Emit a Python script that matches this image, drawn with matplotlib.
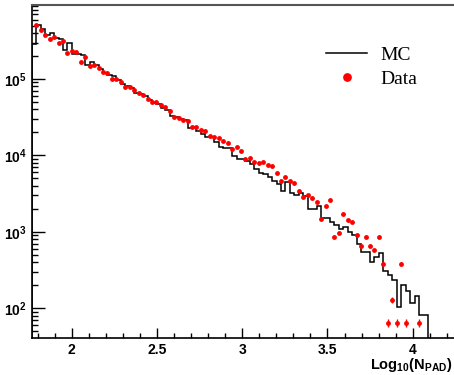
import numpy as np
import matplotlib
matplotlib.use("Agg")
import matplotlib.pyplot as plt
from matplotlib.lines import Line2D
from matplotlib.ticker import MultipleLocator, LogLocator, NullFormatter, FixedLocator, FixedFormatter

# binning in log10(N_PAD)
bin_lo = 1.766
bin_w = 0.0261

# MC histogram, one value per bin (89 bins)
mc_counts = [
    2.87e5, 5.09e5, 4.51e5, 3.77e5, 4.04e5, 3.41e5, 3.31e5, 2.40e5, 2.93e5, 2.12e5,
    2.11e5, 2.06e5, 1.53e5, 1.68e5, 1.53e5, 1.34e5, 1.21e5, 1.13e5, 1.09e5, 9.70e4,
    8.60e4, 8.10e4, 7.56e4, 6.62e4, 6.36e4, 5.99e4, 5.31e4, 4.81e4, 4.67e4, 4.21e4,
    3.93e4, 3.28e4, 3.15e4, 3.02e4, 2.91e4, 2.26e4, 2.38e4, 2.09e4, 1.88e4, 1.74e4,
    1.73e4, 1.51e4, 1.30e4, 1.26e4, 1.26e4, 9.82e3, 9.05e3, 8.89e3, 8.52e3, 7.72e3,
    6.58e3, 5.83e3, 5.76e3, 5.22e3, 4.62e3, 4.16e3, 3.44e3, 4.53e3, 3.25e3, 3.03e3,
    3.19e3, 2.94e3, 1.97e3, 1.97e3, 2.16e3, 1.50e3, 1.50e3, 1.36e3, 1.23e3, 1.08e3,
    1.17e3, 1.00e3, 908, 692, 549, 549, 399, 472, 532, 310,
    272, 234, 105, 201, 169, 118, 144, 81.5, 81.5,
]

# data points (87 points, nan = empty)
data_counts = [
    5.09e5, 4.38e5, 3.77e5, 3.31e5, 3.51e5, 2.99e5, 3.14e5, 2.21e5, 2.35e5, 2.26e5,
    1.68e5, 1.96e5, 1.48e5, 1.53e5, 1.38e5, 1.23e5, 1.19e5, 1.01e5, 1.01e5, 9.22e4,
    7.93e4, 7.93e4, 7.18e4, 6.50e4, 6.17e4, 5.42e4, 5.05e4, 5.05e4, 4.57e4, 4.26e4,
    3.81e4, 3.21e4, 3.06e4, 2.91e4, 2.85e4, 2.33e4, 2.38e4, 2.15e4, 2.11e4, 1.79e4,
    1.73e4, 1.69e4, 1.53e4, 1.47e4, 1.22e4, 1.28e4, 1.15e4, 8.89e3, 9.33e3, 8.12e3,
    8.03e3, 8.12e3, 7.55e3, 7.33e3, 5.83e3, 4.67e3, 5.17e3, 4.62e3, 4.31e3, 3.45e3,
    2.83e3, 3.00e3, 2.77e3, 2.48e3, 1.48e3, 2.18e3, 2.61e3, 847, 973, 1.69e3,
    1.43e3, 1.36e3, 908, 652, 847, 652, 578, 847, 384, 64,
    128, 64, 384, 64, np.nan, np.nan, 64,
]

x_ticks = [2, 2.5, 3, 3.5, 4]
x_tick_labels = ["2", "2.5", "3", "3.5", "4"]
y_ticks = [1e2, 1e3, 1e4, 1e5]
y_tick_labels = [r"$\mathbf{10^{2}}$", r"$\mathbf{10^{3}}$", r"$\mathbf{10^{4}}$", r"$\mathbf{10^{5}}$"]

plt.rcParams["font.family"] = ["Liberation Sans", "DejaVu Sans"]
plt.rcParams["mathtext.fontset"] = "custom"
plt.rcParams["mathtext.rm"] = "Liberation Sans"
plt.rcParams["mathtext.bf"] = "Liberation Sans:bold"
plt.rcParams["mathtext.it"] = "Liberation Sans:italic"

mc_counts = np.array(mc_counts)
data_counts = np.array(data_counts, dtype=float)
edges = bin_lo + bin_w * np.arange(len(mc_counts) + 1)
data_x = edges[1:len(data_counts) + 1]

fig = plt.figure(figsize=(4.54, 3.75), dpi=100)
ax = fig.add_axes([32 / 454, 37 / 375, 1 - 32 / 454, 333 / 375])

ax.stairs(mc_counts, edges, baseline=1, color="black", linewidth=1.1)
ax.errorbar(data_x, data_counts, yerr=np.sqrt(data_counts), fmt="o", color="red",
            markersize=3.5, elinewidth=1.0, capsize=0, markeredgewidth=0)

ax.set_yscale("log")
ax.set_xlim(1.767, 4.242)
ax.set_ylim(40.7, 9.3e5)

ax.xaxis.set_major_locator(FixedLocator(x_ticks))
ax.xaxis.set_major_formatter(FixedFormatter(x_tick_labels))
ax.xaxis.set_minor_locator(MultipleLocator(0.1))
ax.yaxis.set_major_locator(FixedLocator(y_ticks))
ax.yaxis.set_major_formatter(FixedFormatter(y_tick_labels))
ax.yaxis.set_minor_locator(LogLocator(base=10, subs=np.arange(2, 10)))
ax.yaxis.set_minor_formatter(NullFormatter())

ax.tick_params(axis="both", which="both", direction="in", width=1.0, top=False, right=False)
ax.tick_params(axis="x", which="major", length=7.2, pad=3.5, labelsize=10)
ax.tick_params(axis="x", which="minor", length=3.6)
ax.tick_params(axis="y", which="major", length=9.1, pad=3.5, labelsize=10)
ax.tick_params(axis="y", which="minor", length=4.0)
for lab in ax.get_xticklabels():
    lab.set_fontweight("bold")

ax.spines["right"].set_visible(False)
ax.spines["top"].set_color("#555555")
ax.spines["top"].set_linewidth(1.5)
ax.spines["left"].set_linewidth(1.2)
ax.spines["bottom"].set_linewidth(1.2)

fig.text(0.997, 0.004, r"$\mathbf{Log_{10}(N_{PAD})}$", ha="right", va="bottom", fontsize=10.5)

handles = [
    Line2D([], [], color="black", linewidth=1.1),
    Line2D([], [], color="red", marker="o", linestyle="none", markersize=6.3, markeredgewidth=0),
]
ax.legend(handles, ["MC", "Data"], loc="upper left", bbox_to_anchor=(0.719, 0.877),
          bbox_transform=fig.transFigure, frameon=False, borderpad=0, borderaxespad=0,
          handlelength=2.1, handletextpad=0.67, labelspacing=0.35,
          prop={"family": "Liberation Serif", "size": 14})

fig.savefig("out.png", dpi=100)
